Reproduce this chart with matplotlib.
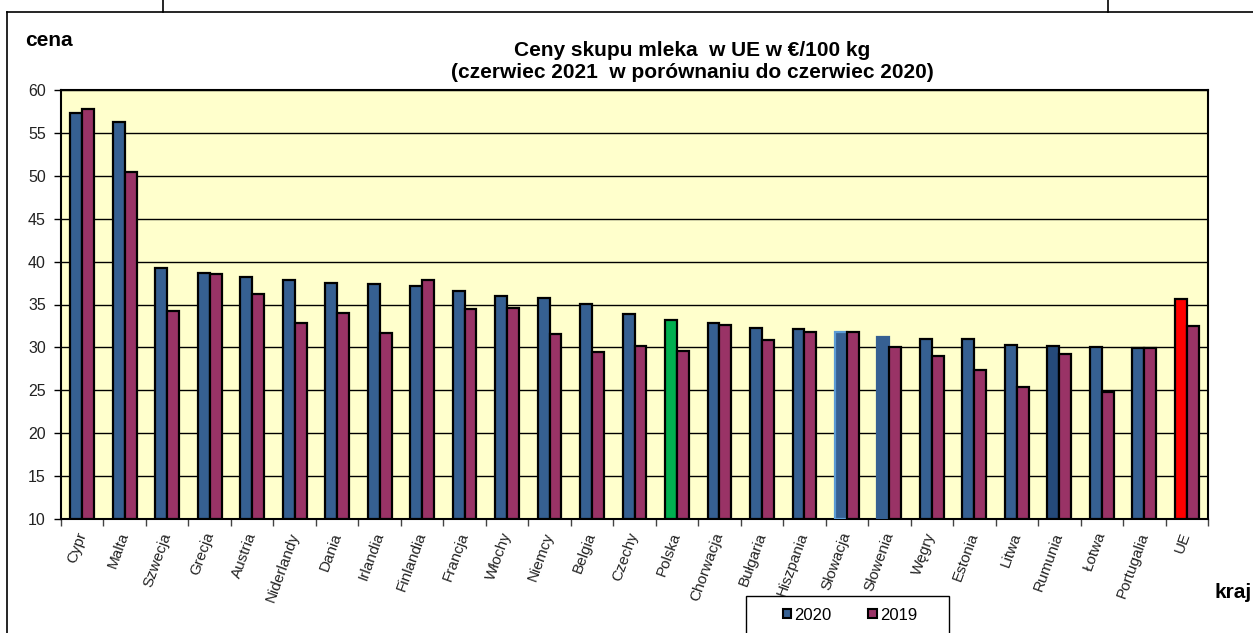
import numpy as np
import matplotlib
matplotlib.use("Agg")
import matplotlib.pyplot as plt
from matplotlib.lines import Line2D
from matplotlib.patches import Patch, Rectangle

plt.rcParams['font.family'] = ['Liberation Sans', 'DejaVu Sans']

# data
kraje = ["Cypr", "Malta", "Szwecja", "Grecja", "Austria", "Niderlandy", "Dania",
         "Irlandia", "Finlandia", "Francja", "Włochy", "Niemcy", "Belgia", "Czechy",
         "Polska", "Chorwacja", "Bułgaria", "Hiszpania", "Słowacja", "Słowenia",
         "Węgry", "Estonia", "Litwa", "Rumunia", "Łotwa", "Portugalia", "UE"]
ceny_2020 = [57.3, 56.3, 39.2, 38.7, 38.2, 37.9, 37.5, 37.4, 37.2, 36.6, 36.0, 35.8,
             35.1, 33.9, 33.2, 32.8, 32.3, 32.2, 31.8, 31.2, 31.0, 31.0, 30.3, 30.2,
             30.0, 29.9, 35.6]
ceny_2019 = [57.8, 50.5, 34.2, 38.5, 36.2, 32.9, 34.0, 31.7, 37.8, 34.5, 34.6, 31.6,
             29.5, 30.2, 29.6, 32.6, 30.9, 31.8, 31.8, 30.1, 29.0, 27.4, 25.4, 29.2,
             24.8, 29.9, 32.5]

c_blue = "#366092"
c_pink = "#993366"
# highlighted bars of the 2020 series
fill_2020 = {"Polska": "#00B050", "UE": "#FF0000", "Rumunia": "#254A7A"}
edge_2020 = {"Słowacja": "#5B9BD5", "Słowenia": c_blue}

W, H = 1253, 633
fig = plt.figure(figsize=(W / 100, H / 100), dpi=100)
ax = fig.add_axes([61 / W, 1 - 519 / H, (1208 - 61) / W, (519 - 90) / H])
ax.set_facecolor("#FFFFCC")

x = np.arange(len(kraje))
w = 0.28
cols = [fill_2020.get(k, c_blue) for k in kraje]
edges = [edge_2020.get(k, "black") for k in kraje]
ax.bar(x - w / 2, np.array(ceny_2020) - 10, w, bottom=10, color=cols,
       edgecolor=edges, linewidth=1.6, zorder=3)
ax.bar(x + w / 2, np.array(ceny_2019) - 10, w, bottom=10, color=c_pink,
       edgecolor="black", linewidth=1.6, zorder=3)

ax.set_xlim(-0.5, len(kraje) - 0.5)
ax.set_ylim(10, 60)
ax.set_yticks(range(10, 61, 5))
ax.yaxis.grid(True, color="black", linewidth=1.0, zorder=1)

ax.set_xticks(x)
ax.set_xticklabels(kraje, rotation=70, ha="right", va="center",
                   rotation_mode="anchor", fontsize=11, color="#222222")
ax.tick_params(axis="x", length=0, pad=10)
ax.set_xticks(np.arange(-0.5, len(kraje)), minor=True)
ax.tick_params(axis="x", which="minor", length=5, width=1, color="#444444")
ax.tick_params(axis="y", length=5, width=1, labelsize=11.5, labelcolor="#222222", pad=6)
for s in ax.spines.values():
    s.set_linewidth(1.5)

fig.text(692 / W, 1 - 50 / H, "Ceny skupu mleka  w UE w €/100 kg",
         ha="center", va="center", fontsize=15, fontweight="bold")
fig.text(692 / W, 1 - 73 / H, "(czerwiec 2021  w porównaniu do czerwiec 2020)",
         ha="center", va="center", fontsize=15, fontweight="bold")
fig.text(25 / W, 1 - 40 / H, "cena", ha="left", va="center",
         fontsize=15, fontweight="bold")
fig.text(1215 / W, 1 - 593 / H, "kraj", ha="left", va="center",
         fontsize=15, fontweight="bold")

# outer frame of the screenshot
for xs, ys in [((7, W), (12, 12)), ((7, 7), (12, H)),
               ((163, 163), (0, 12)), ((1108, 1108), (0, 12))]:
    fig.add_artist(Line2D([v / W for v in xs], [1 - v / H for v in ys],
                          color="black", linewidth=1.2, transform=fig.transFigure))

# legend box runs off the bottom edge
fig.add_artist(Rectangle((746 / W, -0.05), 203 / W, 0.05 + 1 - 596 / H,
                         facecolor="white", edgecolor="black", linewidth=1.0,
                         transform=fig.transFigure, zorder=5))
handles = [Patch(facecolor=c_blue, edgecolor="black", linewidth=1.5, label="2020"),
           Patch(facecolor=c_pink, edgecolor="black", linewidth=1.5, label="2019")]
leg = fig.legend(handles=handles, loc="center",
                 bbox_to_anchor=(850 / W, 1 - 615 / H), ncol=2, fontsize=12,
                 frameon=False, handlelength=0.5, handleheight=0.5,
                 handletextpad=0.2, columnspacing=2.2, borderaxespad=0)
leg.set_zorder(6)

fig.savefig("out.png", dpi=100)
